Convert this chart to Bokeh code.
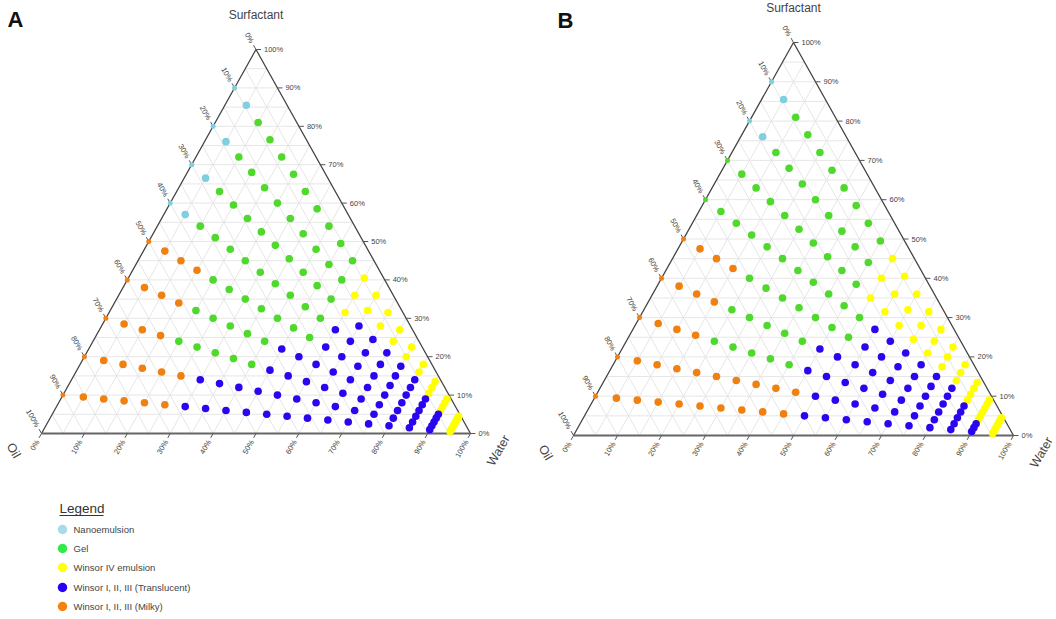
import math
from bokeh.plotting import figure
from bokeh.layouts import row
from bokeh.models import Range1d
from bokeh.core.properties import value
from bokeh.embed import file_html
from bokeh.resources import INLINE

# ------------------------------------------------------------------ data
# each dilution line starts from an oil:surfactant mix (oil % of the mix)
oil_in_mix = [10, 20, 30, 40, 50, 60, 70, 80, 90]
# water added along every dilution line (%)
water_added = [0, 5, 10, 15, 20, 25, 30, 35, 40, 45,
               50, 55, 60, 65, 70, 75, 80, 85, 90, 95]

# observed phase per point (one string per dilution line, one char per water level,
# written in groups of five water levels)
# n = Nanoemulsion, g = Gel, y = Winsor IV emulsion,
# t = Winsor I, II, III (Translucent), m = Winsor I, II, III (Milky)
phase_A = [
    "nnggg ggggg gyyyy yyyyy",
    "nnggg ggggg gyyyy yyyyy",
    "nnggg ggggg gyttt ttyyy",
    "nnggg ggggg gtttt tttyy",
    "mmmmg ggggg gtttt tttty",
    "mmmmg ggggt ttttt tttty",
    "mmmmg ggggt ttttt tttty",
    "mmmmm mtttt ttttt tttty",
    "mmmmm mtttt ttttt tttty",
]
phase_B = [
    "nnggg ggggg yyyyy yyyyy",
    "nnggg ggggg yyyyy yyyyy",
    "ggggg ggggg yyyyy yyyyy",
    "ggggg ggggg gtttt ttyyy",
    "mmmmg ggggg gtttt tttyy",
    "mmmmg ggggt ttttt tttyy",
    "mmmmg ggggt ttttt tttty",
    "mmmmm mmmmm ttttt tttty",
    "mmmmm mmmmm ttttt tttty",
]

tick_values = [0, 10, 20, 30, 40, 50, 60, 70, 80, 90, 100]
tick_labels = ["0%", "10%", "20%", "30%", "40%", "50%", "60%", "70%", "80%", "90%", "100%"]
grid_values = [5, 10, 15, 20, 25, 30, 35, 40, 45, 50, 55, 60, 65, 70, 75, 80, 85, 90, 95]

legend_codes = ["n", "g", "y", "t", "m"]
legend_names = ["Nanoemulsion", "Gel", "Winsor IV emulsion",
                "Winsor I, II, III (Translucent)", "Winsor I, II, III (Milky)"]

# ------------------------------------------------------------------ style
point_colors = {"n": "#7fcfe0", "g": "#4fd92c", "y": "#ffff00",
                "t": "#2a06ee", "m": "#f0800f"}
legend_colors = {"n": "#a8dbe8", "g": "#33e84a", "y": "#ffff14",
                 "t": "#2b00f5", "m": "#f5820f"}
FONT = value("Liberation Sans")
FIG_H = 619
TXT = "#444444"

# triangle placement on the page (pixels): canvas left x, canvas width,
# left x, right x, base y, apex y
geo_A = dict(left=0, width=520, bl=41, br=470, base=433, apex=49)
geo_B = dict(left=520, width=536, bl=573, br=1013, base=435, apex=42)


def make_panel(geo, phases, letter, letter_px, with_legend):
    phases = [s.replace(" ", "") for s in phases]
    bl, br, base, apex = geo["bl"], geo["br"], geo["base"], geo["apex"]
    W = br - bl
    H = base - apex
    x0p = geo["left"]
    fw = geo["width"]
    p = figure(width=fw, height=FIG_H,
               x_range=Range1d((x0p - bl) / W, (x0p + fw - bl) / W),
               y_range=Range1d((base - FIG_H) / H, base / H),
               output_backend="svg", toolbar_location=None, min_border=0,
               x_axis_location=None, y_axis_location=None)
    p.grid.visible = False
    p.outline_line_color = None
    p.background_fill_color = "white"
    p.border_fill_color = "white"

    def page(px, py):
        return (px - bl) / W, (base - py) / H

    # ---- grid (5 % steps) in the three directions
    gx, gy = [], []
    for v in grid_values:
        f = v / 100.0
        gx.append([f / 2, 1 - f / 2]); gy.append([f, f])            # surfactant
        gx.append([f, f + (1 - f) / 2]); gy.append([0, 1 - f])      # water
        gx.append([1 - f, (1 - f) / 2]); gy.append([0, 1 - f])      # oil
    p.multi_line(gx, gy, line_color="#e3e3e3", line_width=0.9)

    # ---- triangle
    p.line([0, 0.5, 1], [0, 1, 0], line_color="#444444", line_width=1.3)
    p.line([0, 1], [0, 0], line_color="#666666", line_width=2)

    # ---- ticks and tick labels
    e_side = 5.0 / math.hypot(0.5 * W, H)
    nx, ny = -0.5 * W, -H
    nn = math.hypot(nx, ny)
    ox, oy = 8 * nx / nn, 8 * ny / nn
    tx, ty = [], []
    rx, ry, lx, ly, bx, by = [], [], [], [], [], []
    for t in tick_values:
        f = t / 100.0
        # right (surfactant)
        rx.append(1 - f / 2); ry.append(f)
        tx.append([1 - f / 2, 1 - f / 2 + 5.0 / W]); ty.append([f, f])
        # left (oil)
        lx.append((1 - f) / 2); ly.append(1 - f)
        tx.append([(1 - f) / 2, (1 - f) / 2 - 0.5 * e_side]); ty.append([1 - f, 1 - f + e_side])
        # bottom (water)
        bx.append(f); by.append(0)
        tx.append([f, f - 0.5 * e_side]); ty.append([0, -e_side])
    p.multi_line(tx, ty, line_color="#555555", line_width=1)
    p.text(rx, ry, text=tick_labels, x_offset=8, text_align="left",
           text_baseline="middle", text_font=FONT, text_font_size="7.5px",
           text_color=TXT)
    p.text(lx, ly, text=tick_labels, x_offset=ox, y_offset=oy, angle=-math.pi / 3,
           text_align="right", text_baseline="middle", text_font=FONT,
           text_font_size="7.5px", text_color=TXT)
    p.text(bx, by, text=tick_labels, x_offset=ox, y_offset=-oy, angle=math.pi / 3,
           text_align="right", text_baseline="middle", text_font=FONT,
           text_font_size="7.5px", text_color=TXT)

    # ---- axis titles
    p.text([0.5], [1], text=["Surfactant"], y_offset=-35, text_align="center",
           text_baseline="middle", text_font=FONT, text_font_size="12px", text_color=TXT)
    p.text([0], [0], text=["Oil"], x_offset=-28, y_offset=17, angle=-math.pi / 3,
           text_align="center", text_baseline="middle", text_font=FONT,
           text_font_size="12.5px", text_color=TXT)
    p.text([1], [0], text=["Water"], x_offset=28, y_offset=17, angle=math.pi / 3,
           text_align="center", text_baseline="middle", text_font=FONT,
           text_font_size="12.5px", text_color=TXT)

    # ---- data points
    xs, ys, cs, ss = [], [], [], []
    for k, r in enumerate(oil_in_mix):
        for j, w in enumerate(water_added):
            surf = (100 - r) * (100 - w) / 100.0
            water = float(w)
            xs.append((water + surf / 2) / 100.0)
            ys.append(surf / 100.0)
            cs.append(point_colors[phases[k][j]])
            ss.append(5 if w == 0 else 7.6)
    p.scatter(xs, ys, size=ss, fill_color=cs, line_color=None)

    # ---- panel letter
    lxp, lyp = page(*letter_px)
    p.text([lxp], [lyp], text=[letter], text_align="left", text_baseline="top",
           text_font=FONT, text_font_size="22px", text_font_style="bold",
           text_color="#111111")

    # ---- legend
    if with_legend:
        tx0, ty0 = page(59, 508)
        p.text([tx0], [ty0], text=["Legend"], text_align="left", text_baseline="middle",
               text_font=FONT, text_font_size="13.5px", text_color="#333333")
        u0, uy = page(59, 515)
        u1, _ = page(103, 515)
        p.line([u0, u1], [uy, uy], line_color="#333333", line_width=1)
        cx, cy, lbx, lby = [], [], [], []
        for i, code in enumerate(legend_codes):
            yy = [529, 548, 567, 587, 606][i]
            a, b = page(62, yy)
            cx.append(a); cy.append(b)
            a2, b2 = page(73, yy)
            lbx.append(a2); lby.append(b2)
        p.scatter(cx, cy, size=9.5, fill_color=[legend_colors[c] for c in legend_codes],
                  line_color=None)
        p.text(lbx, lby, text=legend_names, text_align="left", text_baseline="middle",
               text_font=FONT, text_font_size="9.5px", text_color=TXT)
    return p


pA = make_panel(geo_A, phase_A, "A", (7, 6), True)
pB = make_panel(geo_B, phase_B, "B", (557, 7), False)
layout = row(pA, pB, spacing=0)
open("out.html", "w").write(file_html(layout, INLINE))
